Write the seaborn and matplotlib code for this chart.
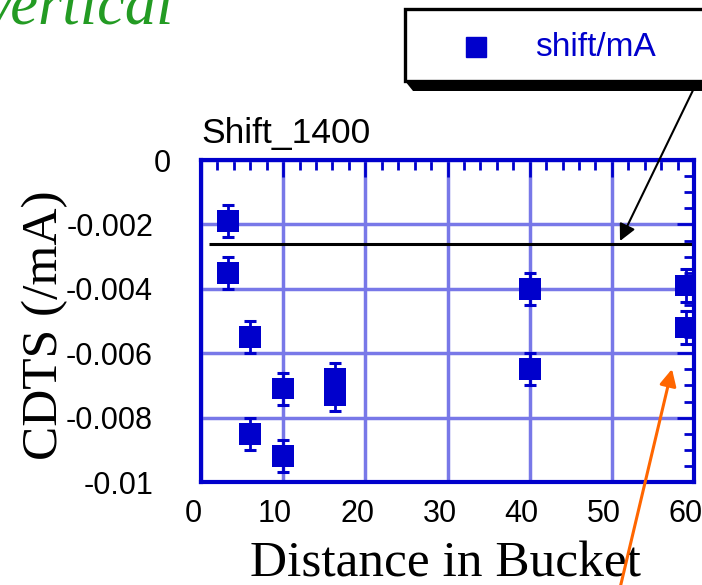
import matplotlib
matplotlib.use('Agg')
import pandas as pd
import matplotlib.pyplot as plt
import seaborn as sns
import matplotlib.transforms as mtransforms
from matplotlib.lines import Line2D
from matplotlib.patches import Rectangle, Polygon
from matplotlib.ticker import MultipleLocator

# values
distance = [3.3, 3.3, 6.0, 6.0, 10.0, 10.0, 16.3, 16.3, 40.0, 40.0, 59.0, 59.0]
cdts = [-0.0019, -0.0035, -0.0055, -0.0085, -0.0071, -0.0092,
        -0.0068, -0.0073, -0.0040, -0.0065, -0.0039, -0.0052]
cdts_err = [0.0005, 0.0005, 0.0005, 0.0005, 0.0005, 0.0005,
            0.0005, 0.0005, 0.0005, 0.0005, 0.0005, 0.0005]
ref_level = -0.0026
ref_start = 1.0
x_ticks = [0, 10, 20, 30, 40, 50, 60]
y_ticks = [0, -0.002, -0.004, -0.006, -0.008, -0.01]
y_ticklabels = ['0', '-0.002', '-0.004', '-0.006', '-0.008', '-0.01']

df = pd.DataFrame({'distance': distance, 'cdts': cdts, 'err': cdts_err})

BLUE = '#0000CC'
GRID = '#7878E8'
W, H = 702, 585

sns.set_style('white')
plt.rcParams['font.family'] = ['Liberation Sans', 'DejaVu Sans']
plt.rcParams['text.color'] = 'black'
plt.rcParams['axes.labelcolor'] = 'black'

fig = plt.figure(figsize=(W / 100, H / 100), dpi=100)
ax = fig.add_axes([201 / W, 1 - 482 / H, 493 / W, 322 / H])

# data: error bars + square markers
ax.errorbar(df['distance'], df['cdts'], yerr=df['err'], fmt='none',
            ecolor=BLUE, elinewidth=2, capsize=4.3, capthick=2.2, zorder=3)
sns.scatterplot(data=df, x='distance', y='cdts', marker='s', s=245,
                color=BLUE, edgecolor='none', linewidth=0, ax=ax,
                zorder=4, legend=False)

# horizontal reference line
ax.hlines(ref_level, ref_start, 60, colors='black', lw=2.2, zorder=2.5)

ax.set_xlim(0, 60)
ax.set_ylim(-0.01, 0)
ax.set_xticks(x_ticks)
ax.set_yticks(y_ticks, labels=y_ticklabels)
ax.xaxis.set_minor_locator(MultipleLocator(2))
ax.yaxis.set_minor_locator(MultipleLocator(0.0005))

ax.grid(True, which='major', color=GRID, lw=2.5)
ax.set_axisbelow(True)

for s in ax.spines.values():
    s.set_color(BLUE)
    s.set_linewidth(3)
    s.set_zorder(5)

ax.tick_params(which='both', direction='in', top=True, right=True,
               color=BLUE, width=2, labelcolor='black')
ax.tick_params(which='major', length=12)
ax.tick_params(which='minor', length=7)
ax.tick_params(axis='x', which='major', pad=12.5, labelsize=22)
ax.tick_params(axis='y', which='major', pad=34.5, labelsize=22)

# small label offsets as in the original
shift_x = mtransforms.ScaledTranslation(-8 / 100, 0, fig.dpi_scale_trans)
for lbl in ax.get_xticklabels():
    lbl.set_transform(lbl.get_transform() + shift_x)
shift_zero = mtransforms.ScaledTranslation(18 / 100, 0, fig.dpi_scale_trans)
ax.get_yticklabels()[0].set_transform(ax.get_yticklabels()[0].get_transform() + shift_zero)

ax.set_xlabel('Distance in Bucket', family='Liberation Serif', fontsize=37, va='center')
ax.set_ylabel('CDTS (/mA)', family='Liberation Serif', fontsize=37, va='center')
ax.xaxis.set_label_coords((445 - 201) / 493, (482 - 564) / 322)
ax.yaxis.set_label_coords((45 - 201) / 493, 0.488)

ax.set_title('Shift_1400', loc='left', fontsize=25.5, pad=12, color='black')

# cut-off heading at top left
fig.text(-20 / W, 1 - 23 / H, 'Vertical', family='Liberation Serif', style='italic',
         fontsize=45, color='#239B23', va='baseline')

# legend box with shadow
def fxy(x, y):
    return (x / W, 1 - y / H)

shadow = Polygon([fxy(405, 81), fxy(413, 91), fxy(720, 91), fxy(720, 81)],
                 closed=True, transform=fig.transFigure, facecolor='black', edgecolor='none')
fig.patches.append(shadow)
box = Rectangle(fxy(405, 81), (720 - 405) / W, (81 - 9) / H, transform=fig.transFigure,
                facecolor='white', edgecolor='black', lw=2.4)
fig.patches.append(box)
fig.add_artist(Line2D([476 / W], [1 - 47 / H], marker='s', ms=15, color=BLUE,
                      linestyle='none', transform=fig.transFigure))
fig.text(535 / W, 1 - 47 / H, 'shift/mA', color=BLUE, fontsize=24, va='center')

# arrows
ax.annotate('', xy=(620, H - 241), xycoords='figure pixels',
            xytext=(697, H - 82), textcoords='figure pixels',
            arrowprops=dict(arrowstyle='-|>', color='black', lw=1.5,
                            mutation_scale=25, shrinkA=0, shrinkB=0),
            annotation_clip=False, zorder=10)
ax.annotate('', xy=(672, H - 369), xycoords='figure pixels',
            xytext=(616, H - 605), textcoords='figure pixels',
            arrowprops=dict(arrowstyle='-|>', color='#FF6600', lw=2.2,
                            mutation_scale=25, shrinkA=0, shrinkB=0),
            annotation_clip=False, zorder=10)

fig.savefig('out.png', dpi=100)
